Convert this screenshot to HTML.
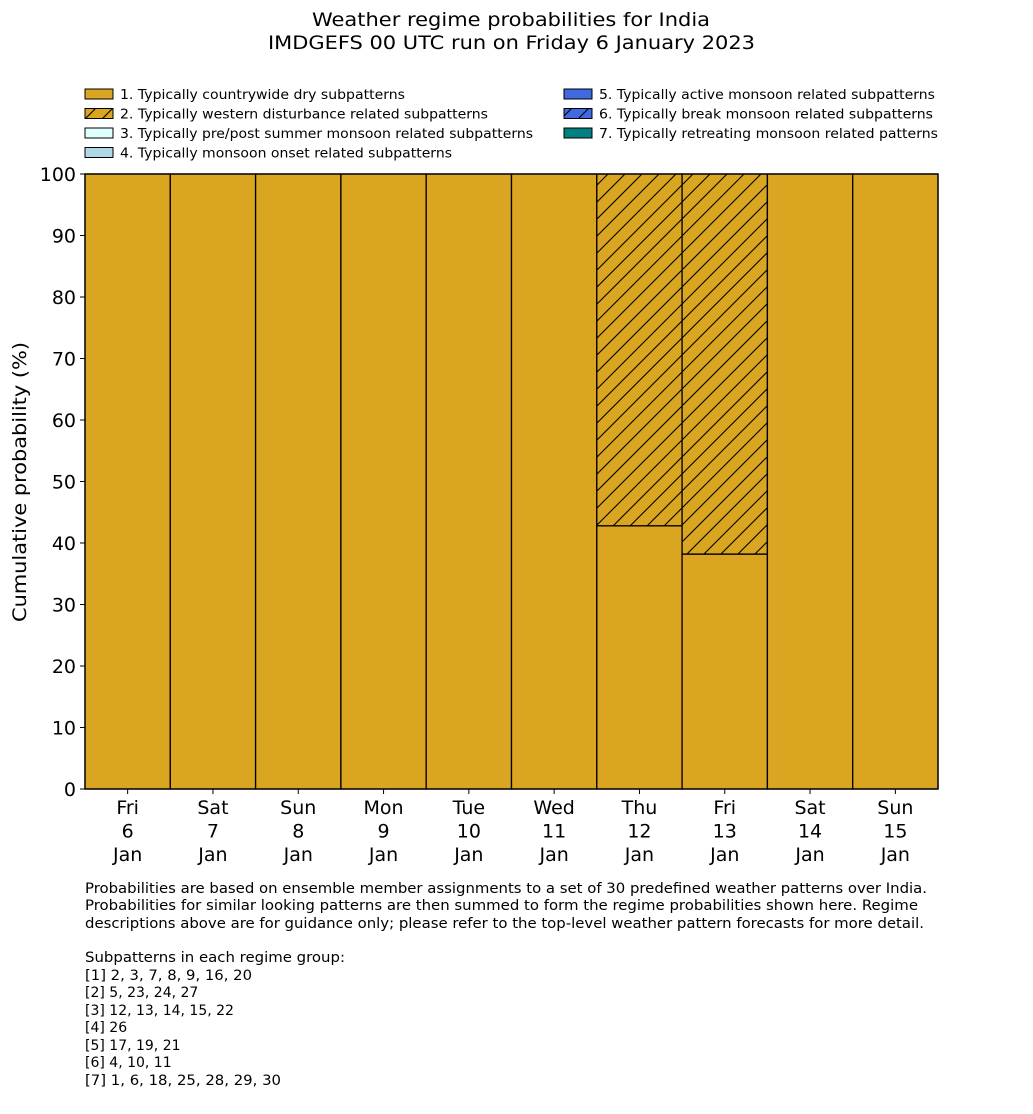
<!DOCTYPE html>
<html><head><meta charset="utf-8"><style>
body{margin:0;background:#fff;width:1033px;height:1114px;overflow:hidden;font-family:"DejaVu Sans","Liberation Sans",sans-serif}
svg{position:absolute;left:0;top:0;font-family:"DejaVu Sans","Liberation Sans",sans-serif}
</style></head><body>
<svg id="c" width="1033" height="1114" xmlns="http://www.w3.org/2000/svg">
<defs>
<pattern id="hatch" patternUnits="userSpaceOnUse" width="17" height="17">
<path d="M-2,2 L2,-2 M0,17 L17,0 M15,19 L19,15" stroke="#000" stroke-width="1.1"/>
</pattern>
</defs>
<text x="312" y="26" font-size="19" textLength="398" lengthAdjust="spacingAndGlyphs">Weather regime probabilities for India</text>
<text x="268" y="49" font-size="19" textLength="487" lengthAdjust="spacingAndGlyphs">IMDGEFS 00 UTC run on Friday 6 January 2023</text>
<g id="legend"></g>
<g id="plot"></g>
<text transform="translate(26,482) rotate(-90)" text-anchor="middle" font-size="19" textLength="280" lengthAdjust="spacingAndGlyphs">Cumulative probability (%)</text>
<g font-size="14">
<text x="85" y="893" textLength="842" lengthAdjust="spacingAndGlyphs">Probabilities are based on ensemble member assignments to a set of 30 predefined weather patterns over India.</text>
<text x="85" y="910" textLength="833" lengthAdjust="spacingAndGlyphs">Probabilities for similar looking patterns are then summed to form the regime probabilities shown here. Regime</text>
<text x="85" y="928" textLength="839" lengthAdjust="spacingAndGlyphs">descriptions above are for guidance only; please refer to the top-level weather pattern forecasts for more detail.</text>
<text x="85" y="962" textLength="260" lengthAdjust="spacingAndGlyphs">Subpatterns in each regime group:</text>
<text x="85" y="980" textLength="167" lengthAdjust="spacingAndGlyphs">[1] 2, 3, 7, 8, 9, 16, 20</text>
<text x="85" y="997">[2] 5, 23, 24, 27</text>
<text x="85" y="1015">[3] 12, 13, 14, 15, 22</text>
<text x="85" y="1032">[4] 26</text>
<text x="85" y="1050">[5] 17, 19, 21</text>
<text x="85" y="1067">[6] 4, 10, 11</text>
<text x="85" y="1085" textLength="196" lengthAdjust="spacingAndGlyphs">[7] 1, 6, 18, 25, 28, 29, 30</text>
</g>
</svg>
<script>
const days=["Fri","Sat","Sun","Mon","Tue","Wed","Thu","Fri","Sat","Sun"];
const dates=["6","7","8","9","10","11","12","13","14","15"];
const dry=[100,100,100,100,100,100,42.8,38.2,100,100];
const wd=[0,0,0,0,0,0,57.2,61.8,0,0];
const yTicks=[0,10,20,30,40,50,60,70,80,90,100];
const legendLabels=["1. Typically countrywide dry subpatterns","2. Typically western disturbance related subpatterns","3. Typically pre/post summer monsoon related subpatterns","4. Typically monsoon onset related subpatterns","5. Typically active monsoon related subpatterns","6. Typically break monsoon related subpatterns","7. Typically retreating monsoon related patterns"];
const legendFills=["#DAA520","url(#hatch)","#E0FFFF","#ADD8E6","#4169E1","url(#hatch)","#008080"];
const legendWidths=[285,368,413,332,336,334,339];
const NS="http://www.w3.org/2000/svg";
const X0=85,X1=938,Y0=789,Y1=174;
const bw=(X1-X0)/days.length;
const x=i=>X0+i*bw;
const y=v=>Y0-(v/100)*(Y0-Y1);
function mk(tag,attrs,parent){const e=document.createElementNS(NS,tag);for(const k in attrs)e.setAttribute(k,attrs[k]);parent.appendChild(e);return e;}
const plot=document.getElementById('plot');
for(let i=0;i<days.length;i++){
  let r=mk('rect',{x:x(i),y:y(dry[i]),width:bw,height:y(0)-y(dry[i]),fill:"#DAA520",stroke:"#000","stroke-width":1.3},plot);
  
  
  if(wd[i]>0){
    const top=dry[i]+wd[i];
    let g=mk('rect',{x:x(i),y:y(top),width:bw,height:y(dry[i])-y(top),fill:"#DAA520"},plot);
    
    
    let h=mk('rect',{x:x(i),y:y(top),width:bw,height:y(dry[i])-y(top),fill:"url(#hatch)",stroke:"#000","stroke-width":1.3},plot);
    
    
  }
  let t=mk('text',{x:x(i)+bw/2,y:814,"text-anchor":"middle","font-size":19},plot);
  
  
  [days[i],dates[i],"Jan"].forEach((s,k)=>{const ts=mk('tspan',{x:x(i)+bw/2,y:814+k*23.5},t);ts.textContent=s;});
  mk('line',{x1:x(i)+bw/2,x2:x(i)+bw/2,y1:Y0,y2:Y0+5,stroke:"#000"},plot);
}
yTicks.forEach(v=>{
  mk('line',{x1:X0-5,x2:X0,y1:y(v),y2:y(v),stroke:"#000"},plot);
  let t=mk('text',{x:X0-9,y:y(v)+7,"text-anchor":"end","font-size":19},plot);
  
  
  t.textContent=v;
});
const ax=mk('rect',{x:X0,y:Y1,width:X1-X0,height:Y0-Y1,fill:"none",stroke:"#000","stroke-width":1.3},plot);


const leg=document.getElementById('legend');
legendLabels.forEach((s,i)=>{
  const col=i<4?0:1,row=i<4?i:i-4;
  const lx=col?564:85,ly=89+row*19.5;
  if(i==1||i==5){mk('rect',{x:lx,y:ly,width:28,height:10,fill:i==1?"#DAA520":"#4169E1"},leg);}
  let r=mk('rect',{x:lx,y:ly,width:28,height:10,fill:legendFills[i],stroke:"#000","stroke-width":1},leg);
  
  
  let t=mk('text',{x:lx+35,y:ly+10,"font-size":13,textLength:legendWidths[i],lengthAdjust:"spacingAndGlyphs"},leg);
  
  
  t.textContent=s;
});
</script>
</body></html>
